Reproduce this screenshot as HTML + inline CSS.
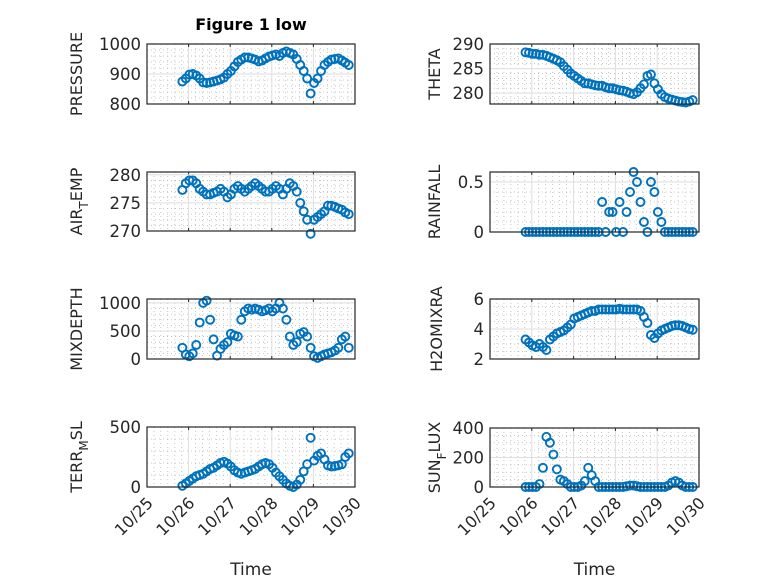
<!DOCTYPE html>
<html><head><meta charset="utf-8">
<style>
html,body{margin:0;padding:0;background:#fff;}
svg{display:block;font-family:"DejaVu Sans","Liberation Sans",sans-serif;}
</style></head>
<body>
<svg id="fig" width="778" height="583" viewBox="0 0 778 583">
<text x="251" y="30" text-anchor="middle" font-weight="bold" font-size="16" fill="#000">Figure 1 low</text>
</svg>
<script>
// Time in days after 10/25 00:00, every 2 hours
const t0 = 0.85;
const step = 1/12;
const pressure = [875,885,898,900,895,885,872,870,872,875, 878,882,888,900,910,925,940,948,955,955, 952,948,942,945,952,958,962,965,960,970, 975,970,965,950,930,910,885,835,870,885, 910,930,940,948,950,952,945,938,930];
const theta = [288.3,288.2,288,288,287.8,287.8,287.6,287.3,287,286.7, 286.3,285.5,284.8,284,283.5,283,282.5,282,282,281.8, 281.6,281.5,281.5,281.2,281,281,280.8,280.6,280.5,280.3, 280,279.8,280.2,281,281.8,283.5,283.8,282,280.8,279.8, 279.2,278.9,278.7,278.5,278.3,278.2,278.1,278.3,278.6];
const airTemp = [277.3,278.5,279,279,278.5,277.5,277,276.5,276.5,276.8, 277,277.5,277,276,276.5,277.5,278,277.5,277,277.5, 278,278.5,278,277.5,277,277,277.5,278,277.5,276.5, 277.5,278.5,278,277,275,273.5,272,269.5,272,272.5, 273,273.5,274.5,274.5,274.3,274,273.8,273.3,273];
const rainfall = [0,0,0,0,0,0,0,0,0,0, 0,0,0,0,0,0,0,0,0,0, 0,0,0.3,0,0.2,0.2,0,0.3,0,0.2, 0.4,0.6,0.5,0.3,0.1,0,0.5,0.4,0.2,0.1, 0,0,0,0,0,0,0,0,0];
const mixDepth = [200,80,50,100,250,650,1000,1040,700,350, 60,180,250,300,450,420,400,700,850,900, 880,900,880,850,870,900,850,900,1000,900, 700,400,250,300,450,480,400,200,50,20, 50,80,100,120,150,200,350,400,200];
const h2oMix = [3.3,3.1,2.9,2.8,3.0,2.8,2.6,3.3,3.5,3.7, 3.8,3.9,4.1,4.3,4.7,4.8,4.9,5.0,5.1,5.2, 5.2,5.3,5.3,5.3,5.3,5.3,5.3,5.35,5.3,5.3, 5.3,5.3,5.3,5.2,4.8,4.4,3.6,3.4,3.7,3.9, 4.0,4.1,4.2,4.25,4.25,4.2,4.1,4.0,3.95];
const terrMsl = [10,30,50,70,90,100,110,130,150,160, 180,200,210,195,170,140,120,110,120,130, 140,150,170,190,200,190,160,120,90,60, 30,10,0,20,60,130,190,410,220,260, 280,230,180,170,175,180,190,250,280];
const sunFlux = [0,0,0,0,20,130,340,300,220,120, 50,40,20,0,0,0,10,40,130,80, 40,0,0,0,0,0,0,0,0,5, 10,10,5,0,0,0,0,0,0,0, 0,10,30,40,30,10,0,0,0];
const xTickLabels = ["10/25","10/26","10/27","10/28","10/29","10/30"];

const NS = "http://www.w3.org/2000/svg";
const svg = document.getElementById('fig');
function mk(tag, attrs, parent){
  const e = document.createElementNS(NS, tag);
  for (const k in attrs) e.setAttribute(k, attrs[k]);
  (parent||svg).appendChild(e);
  return e;
}

const panels = [
 {key:'pressure', data:pressure, x0:147, x1:355, y0:44, y1:104, ymin:800, ymax:1000, ticks:[800,900,1000], minor:20, label:['PRESSURE'], lx:82},
 {key:'theta', data:theta, x0:490, x1:699, y0:44, y1:104, ymin:277.8, ymax:290, ticks:[280,285,290], minor:1, label:['THETA'], lx:440},
 {key:'air-temp', data:airTemp, x0:147, x1:355, y0:172, y1:231, ymin:270, ymax:280.5, ticks:[270,275,280], minor:1, label:['AIR','T','EMP'], lx:82},
 {key:'rainfall', data:rainfall, x0:490, x1:699, y0:172, y1:232, ymin:0, ymax:0.6, ticks:[0,0.5], minor:0.1, label:['RAINFALL'], lx:440},
 {key:'mixdepth', data:mixDepth, x0:147, x1:355, y0:299, y1:359, ymin:0, ymax:1070, ticks:[0,500,1000], minor:100, label:['MIXDEPTH'], lx:82},
 {key:'h2omixra', data:h2oMix, x0:490, x1:699, y0:299, y1:359, ymin:2, ymax:6, ticks:[2,4,6], minor:0.5, label:['H2OMIXRA'], lx:442},
 {key:'terr-msl', data:terrMsl, x0:147, x1:355, y0:427, y1:487, ymin:0, ymax:500, ticks:[0,500], minor:100, label:['TERR','M','SL'], lx:82, bottom:true},
 {key:'sun-flux', data:sunFlux, x0:490, x1:699, y0:428, y1:487, ymin:0, ymax:400, ticks:[0,200,400], minor:50, label:['SUN','F','LUX'], lx:440, bottom:true}
];

panels.forEach(p=>{
  const g = mk('g', {});
  
  
  const xs = d => p.x0 + (d/5)*(p.x1-p.x0);
  const ys = v => p.y1 - (v-p.ymin)/(p.ymax-p.ymin)*(p.y1-p.y0);
  for (let d=0; d<5; d+=1/6){
    const x = xs(d);
    if (Math.abs(d-Math.round(d))<1e-6) continue;
    mk('line',{x1:x,x2:x,y1:p.y0,y2:p.y1,stroke:'#b8b8b8','stroke-width':0.8,'stroke-dasharray':'1 3'},g);
  }
  for (let v=Math.ceil(p.ymin/p.minor)*p.minor; v<=p.ymax+1e-9; v+=p.minor){
    if (p.ticks.some(tk=>Math.abs(tk-v)<1e-6)) continue;
    const y = ys(v);
    mk('line',{x1:p.x0,x2:p.x1,y1:y,y2:y,stroke:'#b8b8b8','stroke-width':0.8,'stroke-dasharray':'1 3'},g);
  }
  for (let d=1; d<5; d++){
    const x = xs(d);
    mk('line',{x1:x,x2:x,y1:p.y0,y2:p.y1,stroke:'#dedede','stroke-width':1},g);
    mk('line',{x1:x,x2:x,y1:p.y1,y2:p.y1-3,stroke:'#262626','stroke-width':1},g);
    mk('line',{x1:x,x2:x,y1:p.y0,y2:p.y0+3,stroke:'#262626','stroke-width':1},g);
  }
  p.ticks.forEach(v=>{
    const y = ys(v);
    mk('line',{x1:p.x0,x2:p.x1,y1:y,y2:y,stroke:'#dedede','stroke-width':1},g);
    const tl = mk('text',{x:p.x0-6,y:y+6,'text-anchor':'end','font-size':16.5,fill:'#262626'},g);
    tl.textContent = String(v);
    
    
  });
  const sg = mk('g', {fill:'none', stroke:'#0072BD','stroke-width':1.9}, g);
  
  
  p.data.forEach((v,i)=>{
    const c = mk('circle',{cx:xs(t0+i*step).toFixed(2), cy:ys(v).toFixed(2), r:4}, sg);
    
    
  });
  const box = mk('rect',{x:p.x0,y:p.y0,width:p.x1-p.x0,height:p.y1-p.y0,fill:'none',stroke:'#262626','stroke-width':1.2},g);
  
  
  const cy = (p.y0+p.y1)/2;
  const yl = mk('text',{x:0,y:0,'text-anchor':'middle','font-size':16,fill:'#262626',transform:`translate(${p.lx},${cy}) rotate(-90)`},g);
  
  
  if (p.label.length===1){ yl.textContent = p.label[0]; }
  else {
    const a = mk('tspan',{},yl); a.textContent = p.label[0];
    const b = mk('tspan',{'font-size':12,dy:6},yl); b.textContent = p.label[1];
    const c = mk('tspan',{dy:-6},yl); c.textContent = p.label[2];
  }
  if (p.bottom){
    xTickLabels.forEach((lab,d)=>{
      const x = xs(d);
      const tx = mk('text',{x:0,y:0,'text-anchor':'end','font-size':16,fill:'#262626',transform:`translate(${x+7},${p.y1+17}) rotate(-45)`},g);
      tx.textContent = lab;
      
      
    });
    const xt = mk('text',{x:(p.x0+p.x1)/2,y:575,'text-anchor':'middle','font-size':17,fill:'#262626'},g);
    xt.textContent = 'Time';
    
    
  }
});
</script>
</body></html>
